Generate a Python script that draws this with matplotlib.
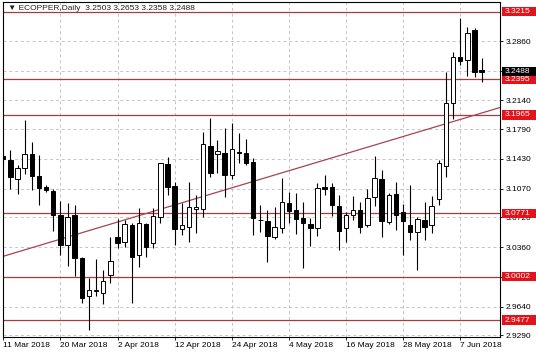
import matplotlib
matplotlib.use('Agg')
import matplotlib.pyplot as plt
from matplotlib.patches import Rectangle
from matplotlib.transforms import blended_transform_factory

plt.rcParams['font.family'] = ['Liberation Sans', 'DejaVu Sans']

# ---- data ----
opens = [3.1466, 3.1417, 3.1187, 3.1324, 3.1486, 3.1223, 3.1093, 3.1045, 3.0747, 3.0387,
         3.0747, 3.0225, 2.9772, 2.9829, 2.9808, 3.0023, 3.0487, 3.0427, 3.0629, 3.0265,
         3.0641, 3.0407, 3.0723, 3.1369, 3.1102, 3.0581, 3.0609, 3.0819, 3.0823, 3.1591,
         3.1486, 3.1498, 3.1235, 3.1518, 3.1506, 3.1397, 3.0693, 3.0678, 3.0487, 3.0596,
         3.0900, 3.0811, 3.0718, 3.0641, 3.0589, 3.1086, 3.1086, 3.0863, 3.0589, 3.0750,
         3.0811, 3.0633, 3.0972, 3.1187, 3.0669, 3.1005, 3.0783, 3.0629, 3.0541, 3.0690,
         3.0629, 3.0944, 3.1344, 3.2105, 3.2662, 3.2630, 3.2993, 3.2503]
highs = [3.1514, 3.1538, 3.1357, 3.1902, 3.1639, 3.1478, 3.1114, 3.1062, 3.0924, 3.0900,
         3.0872, 3.0245, 2.9983, 3.0217, 3.0084, 3.0480, 3.0702, 3.0690, 3.0650, 3.0832,
         3.0650, 3.0832, 3.1384, 3.1457, 3.1154, 3.0892, 3.1154, 3.0993, 3.1760, 3.1923,
         3.1660, 3.1802, 3.1862, 3.1748, 3.1668, 3.1438, 3.0872, 3.0811, 3.0851, 3.1195,
         3.1033, 3.1013, 3.0904, 3.0710, 3.1142, 3.1235, 3.1142, 3.0993, 3.0790, 3.0984,
         3.0912, 3.1062, 3.1466, 3.1296, 3.1017, 3.1147, 3.0884, 3.1114, 3.0730, 3.0912,
         3.0981, 3.1417, 3.2488, 3.2730, 3.3135, 3.3026, 3.3014, 3.2653]
lows = [3.1381, 3.1066, 3.1005, 3.1244, 3.1053, 3.0872, 3.1033, 3.0560, 3.0265, 3.0136,
        3.0011, 2.9680, 2.9356, 2.9768, 2.9668, 2.9922, 3.0347, 3.0359, 2.9687, 3.0116,
        3.0245, 3.0347, 3.0657, 3.0993, 3.0387, 3.0508, 3.0419, 3.0529, 3.0730, 3.1215,
        3.1256, 3.0965, 3.1183, 3.1377, 3.1357, 3.0508, 3.0548, 3.0184, 3.0456, 3.0536,
        3.0657, 3.0520, 3.0111, 3.0375, 3.0499, 3.0993, 3.0738, 3.0326, 3.0427, 3.0690,
        3.0536, 3.0605, 3.0863, 3.0480, 3.0641, 3.0569, 3.0265, 3.0447, 3.0084, 3.0447,
        3.0536, 3.0872, 3.1207, 3.1914, 3.2569, 3.2436, 3.2427, 3.2358]
closes = [3.1429, 3.1215, 3.1317, 3.1490, 3.1223, 3.1081, 3.1053, 3.0747, 3.0387, 3.0730,
          3.0225, 2.9748, 2.9841, 2.9841, 2.9954, 3.0196, 3.0407, 3.0641, 3.0245, 3.0657,
          3.0359, 3.0738, 3.1377, 3.1086, 3.0581, 3.0629, 3.0844, 3.0844, 3.1608, 3.1256,
          3.1526, 3.1235, 3.1547, 3.1498, 3.1384, 3.0710, 3.0687, 3.0496, 3.0609, 3.0904,
          3.0803, 3.0702, 3.0650, 3.0589, 3.1081, 3.1069, 3.0872, 3.0560, 3.0750, 3.0811,
          3.0601, 3.0956, 3.1203, 3.0681, 3.0993, 3.0750, 3.0681, 3.0548, 3.0702, 3.0609,
          3.0863, 3.1377, 3.2112, 3.2662, 3.2621, 3.2961, 3.2488, 3.2488]

date_ticks = [0, 8, 16, 24, 32, 40, 48, 56, 64]
date_labels = ["11 Mar 2018", "20 Mar 2018", "2 Apr 2018", "12 Apr 2018", "24 Apr 2018",
               "4 May 2018", "16 May 2018", "28 May 2018", "7 Jun 2018"]
price_ticks = [3.2860, 3.2500, 3.2140, 3.1790, 3.1430, 3.1070, 3.0720, 3.0360,
               3.0000, 2.9640, 2.9290]
hidden_ticks = [3.2500, 3.0000]   # covered by the level boxes in the reference
levels = [3.3215, 3.2395, 3.1965, 3.0771, 3.0002, 2.9477]
last_price = 3.2488
trend_x = [0, 66]
trend_y = [3.0250, 3.1961]
title = "\u25BC ECOPPER,Daily  3.2503 3.2653 3.2358 3.2488"

# ---- layout ----
W, H = 536, 357
L, R, T, B = 3, 500.5, 2, 337
fig = plt.figure(figsize=(W / 100, H / 100), dpi=100)
fig.patch.set_facecolor('white')
ax = fig.add_axes([L / W, (H - B) / H, (R - L) / W, (B - T) / H])
ax.set_facecolor('white')
ax.set_xlim(-0.04, 69.64)
ax.set_ylim(2.9271, 3.3333)

grid_c = '#c4c4c4'
ax.grid(True, color=grid_c, ls=(0, (3, 3)), lw=0.7)
ax.set_axisbelow(True)

level_c = '#ad3a3a'
for lv in levels:
    ax.axhline(lv, color=level_c, lw=0.9, zorder=2)
ax.axline((trend_x[0], trend_y[0]), (trend_x[1], trend_y[1]), color='#a84450', lw=0.9, zorder=2)

xs = list(range(len(opens)))
ax.vlines(xs, lows, highs, color='black', lw=0.8, zorder=3)
bottoms = [min(o, c) for o, c in zip(opens, closes)]
heights = [max(abs(c - o), 0.0004) for o, c in zip(opens, closes)]
fcs = ['white' if c > o else 'black' for o, c in zip(opens, closes)]
ax.bar(xs, heights, bottom=bottoms, width=0.62, color=fcs, edgecolor='black',
       linewidth=0.7, zorder=4)

for s in ax.spines.values():
    s.set_color('black')
    s.set_linewidth(0.8)

ax.yaxis.tick_right()
ax.set_yticks(price_ticks)
ax.set_yticklabels(['' if t in hidden_ticks else '%.4f' % t for t in price_ticks])
ax.tick_params(axis='y', direction='out', length=2.2, width=0.6, pad=1.6,
               labelsize=6, colors='black')
ax.set_xticks(date_ticks)
ax.set_xticklabels(date_labels)
ax.tick_params(axis='x', direction='out', length=2.2, width=0.6, pad=1.5,
               labelsize=6, colors='black')
for lab in ax.get_xticklabels():
    lab.set_horizontalalignment('left')

# price-label boxes on the scale
trans = blended_transform_factory(fig.transFigure, ax.transData)
hh = 9.5 / 824.8
def box(price, fc, txt):
    fig.add_artist(Rectangle((501.5 / W, price - hh / 2), 34.5 / W, hh, transform=trans,
                             facecolor=fc, edgecolor='none', zorder=5))
    fig.text(505 / W, price, txt, transform=trans, color='white', fontsize=6,
             va='center', ha='left', zorder=6)

for lv in levels:
    box(lv, '#e3131b', '%.4f' % lv)
box(last_price, 'black', '%.4f' % last_price)

fig.text(7.5 / W, (H - 8.5) / H, title, fontsize=6, va='center', ha='left',
         color='#222222', zorder=6)

fig.savefig('out.png', dpi=100)
